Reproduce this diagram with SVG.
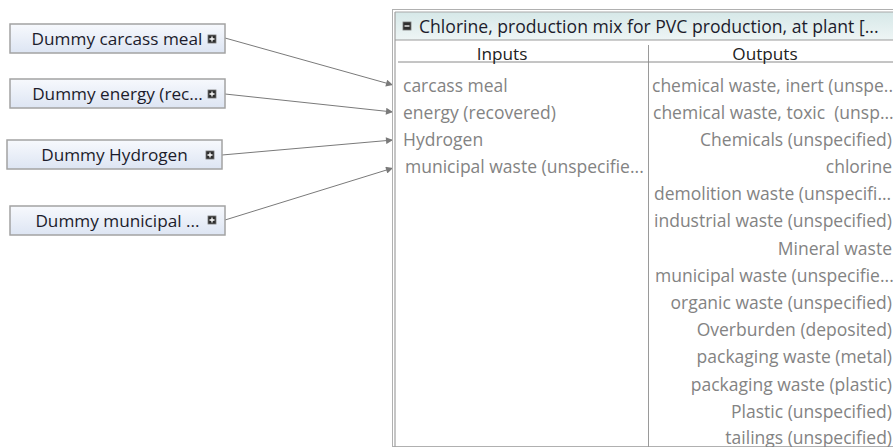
<svg xmlns="http://www.w3.org/2000/svg" width="893" height="447" viewBox="0 0 893 447">
<style>
.lbl{font-family:"Open Sans","Liberation Sans",sans-serif;font-size:17.2px;fill:#1c1c2c}
.hd{font-family:"Open Sans","Liberation Sans",sans-serif;font-size:17.6px;fill:#1c1c2c}
.col{font-family:"Open Sans","Liberation Sans",sans-serif;font-size:17.2px;fill:#222}
.row{font-family:"Open Sans","Liberation Sans",sans-serif;font-size:17.5px;fill:#838383}
.box{fill:url(#ng);stroke:#a3a3a3;stroke-width:1.5}
.conn{stroke:#7a7a7a;stroke-width:1;fill:none;marker-end:url(#arr)}
</style>
<defs>
<linearGradient id="ng" x1="0" y1="0" x2="0" y2="1">
<stop offset="0" stop-color="#f7f9fd"/>
<stop offset="1" stop-color="#dde5f3"/>
</linearGradient>
<linearGradient id="hg" x1="0" y1="0" x2="0" y2="1">
<stop offset="0" stop-color="#d6e8e8"/>
<stop offset="1" stop-color="#eef5f5"/>
</linearGradient>
<marker id="arr" viewBox="0 0 10 10" refX="10" refY="5" markerWidth="9" markerHeight="7" markerUnits="userSpaceOnUse" orient="auto">
<path d="M0,0 L10,5 L0,10 z" fill="#7a7a7a"/>
</marker>
<g id="plus">
<rect x="-4" y="-4" width="8" height="8" fill="#2e2e2e" stroke="#777" stroke-width="0.8"/>
<path d="M-2.5,0 H2.5 M0,-2.5 V2.5" stroke="#fff" stroke-width="1.3"/>
</g>
<g id="minus">
<rect x="-4" y="-4" width="8" height="8" fill="#2e2e2e" stroke="#777" stroke-width="0.8"/>
<path d="M-2.5,0 H2.5" stroke="#fff" stroke-width="1.3"/>
</g>
</defs>
<rect width="893" height="447" fill="#fff"/>

<g id="connectors">
<line class="conn" x1="225" y1="38" x2="393" y2="85"/>
<line class="conn" x1="225" y1="94" x2="393" y2="112"/>
<line class="conn" x1="222" y1="155" x2="393" y2="140"/>
<line class="conn" x1="225" y1="220" x2="393" y2="168"/>
</g>

<g id="node-carcass">
<rect class="box" x="10" y="24" width="215" height="29"/>
<text class="lbl" x="117" y="45" text-anchor="middle">Dummy carcass meal</text>
<use href="#plus" x="212" y="39"/>
</g>
<g id="node-energy">
<rect class="box" x="10" y="79" width="215" height="29"/>
<text class="lbl" x="117.5" y="100" text-anchor="middle">Dummy energy (rec...</text>
<use href="#plus" x="212" y="94"/>
</g>
<g id="node-hydrogen">
<rect class="box" x="7" y="140" width="215" height="29"/>
<text class="lbl" x="114.5" y="161" text-anchor="middle">Dummy Hydrogen</text>
<use href="#plus" x="210" y="155"/>
</g>
<g id="node-municipal">
<rect class="box" x="10" y="206" width="215" height="29"/>
<text class="lbl" x="117.5" y="227" text-anchor="middle">Dummy municipal ...</text>
<use href="#plus" x="212" y="220"/>
</g>

<g id="node-chlorine">
<rect x="392.5" y="9.5" width="510" height="437" fill="#fff" stroke="#b0b0b0" stroke-width="1"/>
<rect x="395" y="12" width="505" height="28" fill="url(#hg)"/>
<line x1="395" y1="12" x2="893" y2="12" stroke="#a8a8a8" stroke-width="1"/>
<line x1="395" y1="12" x2="395" y2="447" stroke="#a0a0a0" stroke-width="1.2"/>
<line x1="395" y1="40" x2="893" y2="40" stroke="#9a9a9a" stroke-width="1"/>
<use href="#minus" x="407" y="26"/>
<text class="hd" x="419" y="33">Chlorine, production mix for PVC production, at plant [...</text>
<line x1="648.5" y1="45" x2="648.5" y2="447" stroke="#9a9a9a" stroke-width="1"/>
<line x1="398" y1="62" x2="893" y2="62" stroke="#8a8a8a" stroke-width="1"/>
<text class="col" x="502" y="60" text-anchor="middle">Inputs</text>
<text class="col" x="765" y="60" text-anchor="middle">Outputs</text>
<text class="row" x="403" y="92">carcass meal</text>
<text class="row" x="403" y="119">energy (recovered)</text>
<text class="row" x="403" y="146">Hydrogen</text>
<text class="row" x="405" y="173">municipal waste (unspecifie...</text>
<text class="row" x="652" y="92">chemical waste, inert (unspe...</text>
<text class="row" x="653" y="119" xml:space="preserve">chemical waste, toxic  (unsp...</text>
<text class="row" x="654" y="200">demolition waste (unspecifi...</text>
<text class="row" x="655" y="282">municipal waste (unspecifie...</text>
<g text-anchor="end">
<text class="row" x="892" y="146">Chemicals (unspecified)</text>
<text class="row" x="892" y="173">chlorine</text>
<text class="row" x="892" y="227">industrial waste (unspecified)</text>
<text class="row" x="892" y="255">Mineral waste</text>
<text class="row" x="892" y="309">organic waste (unspecified)</text>
<text class="row" x="892" y="336">Overburden (deposited)</text>
<text class="row" x="892" y="363">packaging waste (metal)</text>
<text class="row" x="892" y="391">packaging waste (plastic)</text>
<text class="row" x="892" y="418">Plastic (unspecified)</text>
<text class="row" x="892" y="444">tailings (unspecified)</text>
</g>
</g>
</svg>
